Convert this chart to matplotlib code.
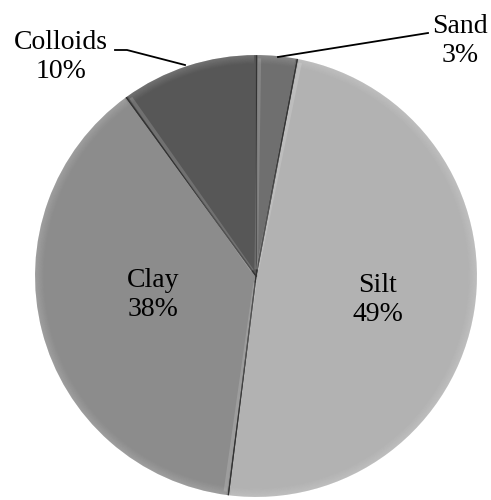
import matplotlib.pyplot as plt
from matplotlib.patches import Wedge
import numpy as np

plt.rcParams['font.family'] = ['Liberation Serif', 'DejaVu Serif']

labels = ["Sand", "Silt", "Clay", "Colloids"]
shares = [3, 49, 38, 10]
colors = ["#6f6f6f", "#b2b2b2", "#8c8c8c", "#575757"]

fig = plt.figure(figsize=(4.91, 5.0), dpi=100)
# pie centred at about (256, 276) px, radius ~221 px
ax = fig.add_axes([0.0714, 0.006, 0.9, 0.884])
ax.set_aspect("equal")
ax.axis("off")

wedges, _ = ax.pie(shares, colors=colors, startangle=90, counterclock=False,
                   radius=1.0, center=(0, 0), frame=False,
                   wedgeprops=dict(edgecolor="none", linewidth=0))
ax.set_xlim(-1, 1)
ax.set_ylim(-1, 1)

# soft bevel: lighter rim along each outer arc, fading inwards
for w in wedges:
    t1, t2 = w.theta1, w.theta2
    steps = 10
    for k in range(steps):
        a = 0.16 * (1 - k / steps)
        ring = Wedge((0, 0), 1.0 - k * 0.004, t1 + 0.5, t2 - 0.5, width=0.004,
                     facecolor="white", alpha=a, edgecolor="none")
        ax.add_patch(ring)

# wedge boundaries: thin dark line with a pale highlight next to it
for w in wedges:
    for ang in (w.theta1, w.theta2):
        r = np.radians(ang)
        ax.plot([0, np.cos(r)], [0, np.sin(r)], color="#333333", lw=0.8,
                solid_capstyle="butt")
for w in wedges:
    r = np.radians(w.theta2 - 0.9)
    ax.plot([0.03 * np.cos(r), 0.985 * np.cos(r)],
            [0.03 * np.sin(r), 0.985 * np.sin(r)],
            color="white", alpha=0.15, lw=2.5, solid_capstyle="butt")

# inside labels
fs = 20
ax.text(-0.466, -0.086, "Clay\n38%", ha="center", va="center", fontsize=fs,
        linespacing=1.2)
ax.text(0.552, -0.109, "Silt\n49%", ha="center", va="center", fontsize=fs,
        linespacing=1.2)

# outside labels with leader lines (figure pixel coordinates)
def px(x, y):
    return (x / 491, 1 - y / 500)

fig.text(*px(460, 41), "Sand\n3%", ha="center", va="center", fontsize=fs,
         linespacing=1.2)
fig.text(*px(61, 57), "Colloids\n10%", ha="center", va="center", fontsize=fs,
         linespacing=1.2)

sand_line = [px(428, 33), px(278, 57)]
coll_line = [px(115, 50), px(127, 50), px(185, 65)]
for pts in (sand_line, coll_line):
    xs, ys = zip(*pts)
    fig.add_artist(plt.Line2D(xs, ys, color="black", linewidth=1.3,
                              transform=fig.transFigure))

fig.savefig("out.png", dpi=100)
